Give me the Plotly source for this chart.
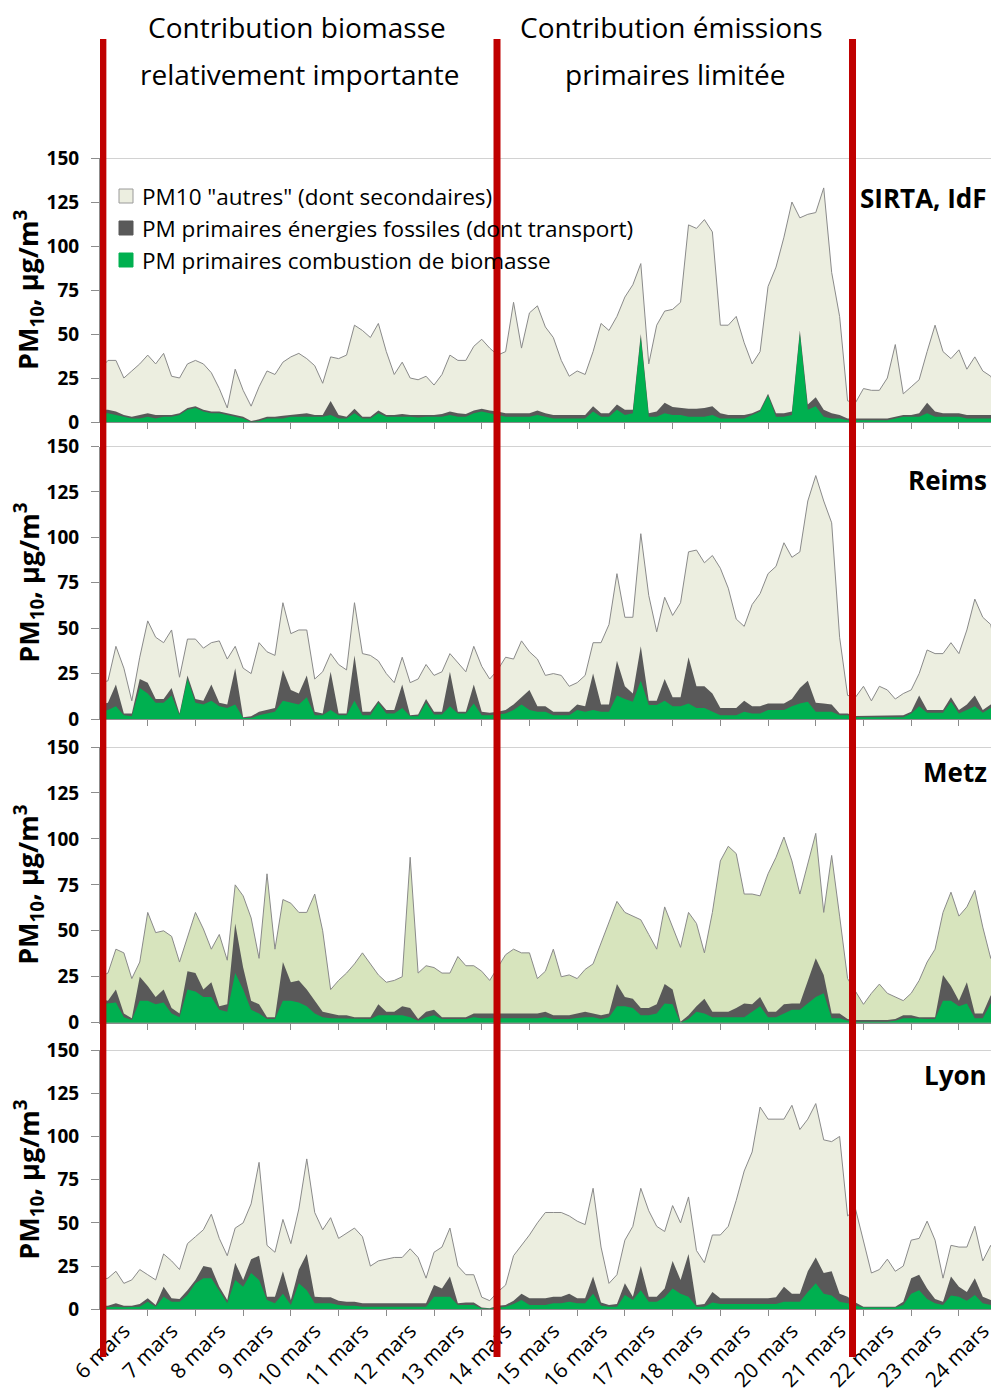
import numpy as np
import plotly.graph_objects as go

# target picture size; the page body adds an 8px margin, so the figure is drawn 8px smaller
W_REF, H_REF = 999, 1399
OFF = 8
W, H = W_REF - OFF, H_REF - OFF

# sampling grid: every 4 hours from 6 mars 00h to 24 mars 20h (x in "day of March")
days = np.arange(6 * 24, 25 * 24, 4) / 24.0

day_labels = ["6 mars", "7 mars", "8 mars", "9 mars", "10 mars", "11 mars", "12 mars",
              "13 mars", "14 mars", "15 mars", "16 mars", "17 mars", "18 mars", "19 mars",
              "20 mars", "21 mars", "22 mars", "23 mars", "24 mars"]
day_starts = list(range(6, 25))
y_ticks = [0, 25, 50, 75, 100, 125, 150]

stations = ["SIRTA, IdF", "Reims", "Metz", "Lyon"]
series_names = ['PM10 "autres" (dont secondaires)',
                "PM primaires énergies fossiles (dont transport)",
                "PM primaires combustion de biomasse"]
divider_days = [6.06, 14.32, 21.77]

# ---- SIRTA, IdF ----
sirta_total = [30, 35, 35, 25, 29, 33,  38, 33, 39, 26, 25, 33,  35, 33, 28, 19, 8, 30,
               18, 9, 20, 29, 27, 34,  37, 39, 36, 32, 22, 37,  36, 38, 55, 52, 48, 56,
               40, 27, 34, 25, 24, 26,  21, 27, 38, 35, 35, 43,  47, 42, 38, 40, 68, 42,
               62, 66, 54, 48, 35, 26,  29, 27, 40, 56, 52, 60,  71, 78, 90, 33, 55, 63,
               64, 68, 112, 110, 115, 108,  55, 55, 60, 45, 33, 40,  77, 88, 105, 125, 116, 118,
               119, 133, 85, 60, 12, 11,  19, 18, 18, 25, 44, 16,  20, 24, 40, 55, 40, 36,
               41, 30, 37, 29, 26, 16]
sirta_primaires = [7, 7, 6, 4, 3, 4,  5, 4, 4, 4, 5, 8,  9, 7, 6, 6, 5, 4,
                   3, 0.5, 1.5, 3, 3, 3.5,  4, 4.5, 5, 4, 4, 12,  4, 3, 7.5, 3, 3, 6.5,
                   4, 4, 4.5, 4, 4, 4,  4, 4.5, 6, 5, 4.5, 6.5,  7.5, 6.5, 6, 5, 5, 5,
                   5, 6.5, 5, 4, 4, 4,  4, 4, 9, 5, 5, 10,  7, 7, 50, 5, 6, 11,
                   8.5, 8, 7.5, 7.5, 8, 9,  5, 4, 4, 4, 5, 7,  16, 5, 5, 6, 52, 10,
                   14, 7, 5, 4, 2, 2,  2, 2, 2, 2, 3, 4,  4, 5, 11, 6, 5, 5,
                   5, 4, 4, 4, 4, 4]
sirta_biomasse = [5, 5, 4, 3, 2, 2,  3, 2, 3, 3, 4, 7,  8, 6, 5, 5, 4, 3,
                  2, 0, 0.5, 2, 2, 2,  3, 3, 3, 3, 3, 4,  2, 2, 5, 2, 2, 5,
                  3, 3, 3, 3, 2.5, 3,  3, 3, 4, 3, 3, 5,  6, 5, 4, 3, 3, 3,
                  3, 4, 3, 2, 2, 2,  2, 2, 6, 3, 3, 7,  4, 5, 48, 3, 3, 5,
                  4, 4, 3, 3, 3, 4,  2, 2, 2, 2, 4, 6,  15, 3, 3, 4, 50, 7,
                  9, 3, 2, 2, 1, 1,  1, 1, 1, 1, 2, 3,  3, 3, 5, 3, 3, 3,
                  3, 2, 2, 2, 2, 2]

# ---- Reims ----
reims_total = [20, 21, 40, 28, 10, 34,  54, 45, 42, 49, 23, 44,  44, 39, 42, 43, 33, 40,
               28, 25, 42, 37, 35, 64,  47, 49, 49, 22, 26, 36,  30, 27, 64, 36, 35, 32,
               25, 20, 34, 20, 22, 30,  24, 26, 36, 31, 26, 40,  29, 22, 27, 34, 33, 43,
               37, 33, 24, 25, 24, 18,  20, 24, 42, 42, 52, 80,  56, 56, 102, 68, 48, 67,
               57, 64, 92, 93, 86, 90,  83, 72, 55, 51, 63, 69,  80, 84, 97, 89, 92, 120,
               134, 120, 108, 45, 13, 12,  18, 10, 18, 16, 11, 14,  16, 25, 38, 36, 36, 42,
               36, 49, 66, 56, 52, 28]
reims_primaires = [8, 9, 19, 3, 3, 22,  20, 11, 11, 17, 3, 24,  11, 10, 19, 9, 8, 28,
                   1, 1.5, 4, 5, 6, 27,  16, 14, 24, 4, 3, 26,  3, 3, 35, 4, 4, 10,
                   5, 5, 19, 2, 2.5, 11,  4, 4, 26, 4, 4, 19,  4, 3.5, 4, 5, 8, 12,
                   16, 7, 7, 4, 4, 4,  8, 7, 25, 8, 8, 32,  18, 14, 40, 10, 10, 22,
                   12, 12, 34, 18, 18, 14,  6, 6, 6, 10, 7, 7,  8.6, 8.6, 8.6, 11, 17, 21,
                   9, 8.6, 8, 3, 3, 1.6,  1.6, 1.6, 1.6, 1.6, 1.6, 2,  4, 13, 5, 5, 5, 12,
                   5, 8, 13, 5, 8, 10]
reims_biomasse = [4, 5, 7, 2, 1.5, 17,  14, 9, 9, 13, 2, 22,  9, 8, 10, 7, 6, 8,
                  0.5, 0.5, 2, 3, 4, 10,  9, 8, 12, 2, 2, 5,  2, 2, 10, 2, 2, 9,
                  3, 3, 6, 1.5, 1.5, 9,  2.5, 2.5, 7, 3, 3, 8.5,  2, 2, 2.5, 3, 5, 8,
                  5, 4, 4, 2, 2, 2,  5, 4, 5, 4, 4, 13,  11, 9.5, 21, 7.7, 7.7, 10,
                  7, 7, 8.6, 6, 6, 4,  2, 2, 2, 4, 3, 3,  5, 5, 5, 7, 8.6, 9.5,
                  4, 4, 4, 2, 2, 1,  1, 1, 1, 1, 1, 1,  3, 7, 3.5, 3.5, 3.5, 9.5,
                  3, 5, 7, 3.5, 6, 8.6]

# ---- Metz ----
metz_total = [25, 27, 40, 38, 24, 33,  60, 49, 50, 47, 33, 46,  60, 51, 40, 48, 34, 75,
              69, 57, 35, 81, 40, 67,  65, 60, 60, 70, 50, 18,  23, 27, 32, 38, 32, 26,
              22, 23, 25, 90, 27, 31,  30, 27, 27, 36, 31, 31,  28, 23, 30, 37, 40, 38,
              38, 24, 28, 40, 25, 26,  24, 29, 32, 43, 55, 66,  60, 58, 56, 48, 40, 63,
              52, 41, 60, 54, 38, 60,  88, 96, 92, 70, 70, 69,  81, 90, 101, 88, 70, 86,
              103, 60, 91, 58, 24, 17,  10, 16, 21, 16, 14, 12,  16, 23, 33, 40, 60, 71,
              58, 63, 72, 52, 35, 56]
metz_primaires = [13, 12, 18, 5, 2.4, 25,  20, 14, 18, 8, 5, 28,  27, 18, 22, 9, 10, 54,
                  30, 12, 10, 3, 3, 33,  22, 23, 18, 12, 6, 5,  4, 4, 3, 3, 3, 10,
                  6, 6, 9, 8, 2, 6,  7, 3, 3, 3, 3, 5,  5, 5, 5, 5, 5, 5,
                  5, 5, 6, 4, 4, 4,  5, 6, 5, 4, 5, 21,  14, 13, 8, 8, 10, 21,
                  18, 0.5, 4, 9, 13, 6,  6, 6, 8, 10.5, 10, 14,  6, 6, 10, 10.5, 10.5, 23,
                  35, 26, 5, 5, 2, 1.5,  1.5, 1.5, 1.5, 1.5, 2, 4,  4, 3, 3, 3, 26, 20,
                  12, 22, 5, 5, 15, 7]
metz_biomasse = [10, 10.5, 11, 3, 1.5, 12,  12, 10, 11, 5, 3, 18,  17, 14, 14, 7, 6, 27,
                 18, 7, 5, 2, 2, 12,  12, 11, 9, 5, 3, 2.4,  2.4, 2.4, 2, 2, 2, 4,
                 4, 4, 4, 3, 1, 3,  4, 2, 2, 2, 2, 3,  2.4, 2.4, 2.4, 2.4, 2.4, 2.4,
                 2.4, 2.4, 3, 2, 2, 2,  2.5, 3, 3, 2, 3, 9,  9, 8, 4, 4, 5, 10.5,
                 10, 0, 2, 6, 5, 3,  3, 3, 3, 3, 6, 9,  3, 3, 5, 7, 7, 10.5,
                 14, 16, 2.4, 2.4, 1, 0.5,  0.5, 0.5, 0.5, 0.5, 1, 2.4,  2.4, 2, 2, 2, 12, 12,
                 9, 10.5, 2.4, 2.4, 10.5, 4]

# ---- Lyon ----
lyon_total = [17, 18, 22, 15, 17, 23,  20, 17, 32, 28, 23, 38,  42, 46, 55, 41, 31, 47,
              50, 61, 85, 37, 33, 52,  38, 58, 87, 56, 46, 53,  41, 44, 47, 42, 25, 28,
              29, 30, 30, 35, 30, 18,  33, 36, 47, 25, 20, 20,  7, 5, 10, 14, 31, 37,
              43, 50, 56, 56, 56, 54,  51, 49, 70, 36, 15, 20,  40, 48, 70, 57, 48, 45,
              60, 50, 65, 34, 27, 43,  43, 48, 63, 80, 91, 117,  110, 110, 110, 118, 104, 110,
              119, 98, 97, 100, 54, 58,  40, 21, 23, 29, 22, 25,  40, 41, 51, 40, 18, 37,
              36, 36, 48, 28, 37, 25]
lyon_primaires = [2, 2, 3.5, 2, 2, 3,  6.4, 2.5, 13, 6.4, 6, 11,  17, 25, 24, 13, 5.4, 27,
                  17, 29, 31, 7.3, 7.3, 22,  5.4, 23, 32, 7.3, 7, 7,  5, 4.4, 4.4, 3.5, 3.5, 3.5,
                  3.5, 3.5, 3.5, 3.5, 3.5, 3.5,  14, 12, 19, 3.5, 4, 4,  1, 0.6, 2, 2.5, 5, 9,
                  6.4, 6.4, 6.4, 7.3, 7.3, 9,  6.4, 6.4, 19, 4, 2.5, 3,  15, 7.3, 25, 7.3, 7.3, 12,
                  28, 17, 32, 2.5, 3, 10,  6.4, 6.4, 6.4, 6.4, 6.4, 6.4,  6.4, 7, 13, 9, 9, 22,
                  30, 21, 22, 9, 7.3, 4,  1.5, 1.5, 1.5, 1.5, 1.5, 4.4,  18, 20, 12, 6, 4.4, 19,
                  13, 10, 18, 7.3, 5.4, 5.4]
lyon_biomasse = [1, 1.2, 1.5, 1.2, 1.2, 1.5,  4.4, 1.5, 7.3, 4.4, 4.4, 8.3,  15, 18, 18, 11, 3.5, 17,
                 13, 21, 17, 5.4, 3.5, 9,  2.5, 15, 11, 3.5, 3.5, 3.5,  2.5, 2, 2, 1.5, 1.5, 1.5,
                 1.5, 1.5, 1.5, 1.5, 1.5, 1.5,  7.3, 7.3, 7.3, 2.5, 2.5, 2.5,  0.5, 0.3, 1, 1.5, 3, 5.4,
                 2.5, 2.5, 2.5, 3.5, 3.5, 4.4,  3.5, 3.5, 9, 2, 1.5, 1.5,  8.3, 5.4, 11, 4.4, 4.4, 7,
                 12, 9, 7.3, 1.5, 1.5, 4,  3, 3, 3, 3, 3, 3,  3, 3, 4.4, 4.4, 4.4, 10,
                 15, 9, 8, 4.4, 3.5, 2,  1, 1, 1, 1, 1, 2.5,  9, 11, 6, 3.5, 2.5, 8,
                 7.3, 5, 8.3, 3.5, 2.5, 2.5]

panels = [
    (sirta_total, sirta_primaires, sirta_biomasse),
    (reims_total, reims_primaires, reims_biomasse),
    (metz_total, metz_primaires, metz_biomasse),
    (lyon_total, lyon_primaires, lyon_biomasse),
]

# ---- styling / geometry (in picture pixels) ----
FONT = "Open Sans"
C_AUTRES = "#ECEEE0"
C_AUTRES_METZ = "#D7E4BD"
C_FOSSIL = "#595959"
C_BIO = "#00B050"
C_AXIS = "#8C8C8C"
C_RED = "#C00000"
panel_px = [(158, 422), (446.5, 719), (747, 1022.7), (1050, 1309.3)]  # (y of 150, y of 0)
station_y = [198, 480, 772, 1075]
X0_PX = 100
X_RANGE = [6.0, 24.84]


def px(p):
    return (p - OFF) / W


def py(p):
    return 1 - (p - OFF) / H


fig = go.Figure()
layout = dict(
    width=W, height=H, margin=dict(l=0, r=0, t=0, b=0, pad=0, autoexpand=False),
    paper_bgcolor="white", plot_bgcolor="white", showlegend=False,
    font=dict(family=FONT, color="black"),
)
shapes = []
annotations = []

for i, (tot, prim, bio) in enumerate(panels):
    s = "" if i == 0 else str(i + 1)
    xa, ya = "x" + s, "y" + s
    fc = C_AUTRES_METZ if i == 2 else C_AUTRES
    fig.add_trace(go.Scatter(x=days, y=tot, mode="lines", fill="tozeroy", fillcolor=fc,
                             line=dict(color="#8A8A8A", width=1), name=series_names[0],
                             xaxis=xa, yaxis=ya, hoverinfo="skip"))
    fig.add_trace(go.Scatter(x=days, y=prim, mode="lines", fill="tozeroy", fillcolor=C_FOSSIL,
                             line=dict(color=C_FOSSIL, width=0), name=series_names[1],
                             xaxis=xa, yaxis=ya, hoverinfo="skip"))
    fig.add_trace(go.Scatter(x=days, y=bio, mode="lines", fill="tozeroy", fillcolor=C_BIO,
                             line=dict(color=C_BIO, width=0), name=series_names[2],
                             xaxis=xa, yaxis=ya, hoverinfo="skip"))

    top, bot = panel_px[i]
    layout["xaxis" + s] = dict(
        domain=[px(X0_PX), 1], range=X_RANGE, anchor=ya, automargin=False,
        showline=True, linecolor=C_AXIS, linewidth=1, showgrid=False, zeroline=False,
        tickmode="array", tickvals=[d + 0.5 for d in day_starts], ticktext=day_labels,
        ticks="", showticklabels=(i == 3), tickangle=-45,
        tickfont=dict(family=FONT, size=21, color="black"),
        minor=dict(tickmode="array", tickvals=day_starts, ticks="outside", ticklen=6,
                   tickcolor=C_AXIS, showgrid=False),
    )
    layout["yaxis" + s] = dict(
        domain=[py(bot), py(top)], range=[0, 150], anchor=xa, automargin=False,
        tickmode="array", tickvals=y_ticks, ticks="outside", ticklen=8, tickcolor=C_AXIS,
        showline=True, linecolor=C_AXIS, showgrid=False, zeroline=False,
        tickfont=dict(family=FONT, size=19, color="black", weight="bold"),
        ticklabelstandoff=8,
    )
    # top border line at 150
    shapes.append(dict(type="line", xref=f"x{s} domain", x0=0, x1=1,
                       yref=ya, y0=150, y1=150, line=dict(color="#A6A6A6", width=1),
                       layer="below"))
    # y title
    annotations.append(dict(text="<b>PM<sub>10</sub>, µg/m<sup>3</sup></b>", textangle=-90,
                            xref="paper", yref="paper", x=px(29), y=py((top + bot) / 2),
                            xanchor="center", yanchor="middle", showarrow=False,
                            font=dict(family=FONT, size=27, color="black")))
    # station label
    annotations.append(dict(text=f"<b>{stations[i]}</b>", xref="paper", yref="paper",
                            x=px(989), y=py(station_y[i]), xanchor="right", yanchor="middle",
                            showarrow=False, font=dict(family=FONT, size=26, color="black")))

# header texts
for txt, cx, cy in [("Contribution biomasse", 297, 27), ("relativement importante", 299, 74),
                    ("Contribution émissions", 671, 27), ("primaires limitée", 675, 74)]:
    annotations.append(dict(text=txt, xref="paper", yref="paper", x=px(cx), y=py(cy),
                            xanchor="center", yanchor="middle", showarrow=False,
                            font=dict(family=FONT, size=28, color="black")))

# legend
for name, col, ly in zip(series_names, [C_AUTRES, C_FOSSIL, C_BIO], [196, 228, 260]):
    shapes.append(dict(type="rect", xref="paper", yref="paper",
                       x0=px(119), x1=px(133), y0=py(ly + 7), y1=py(ly - 7),
                       fillcolor=col,
                       line=dict(color="#9A9A9A" if col == C_AUTRES else col, width=1)))
    annotations.append(dict(text=name, xref="paper", yref="paper", x=px(140), y=py(ly),
                            xanchor="left", yanchor="middle", showarrow=False,
                            font=dict(family=FONT, size=22.5, color="black")))

# red period dividers
for d in divider_days:
    shapes.append(dict(type="line", xref="x4", yref="paper", x0=d, x1=d,
                       y0=py(1357), y1=py(39), line=dict(color=C_RED, width=7),
                       layer="above"))

layout["shapes"] = shapes
layout["annotations"] = annotations
fig.update_layout(**layout)
fig.write_html("out.html")
